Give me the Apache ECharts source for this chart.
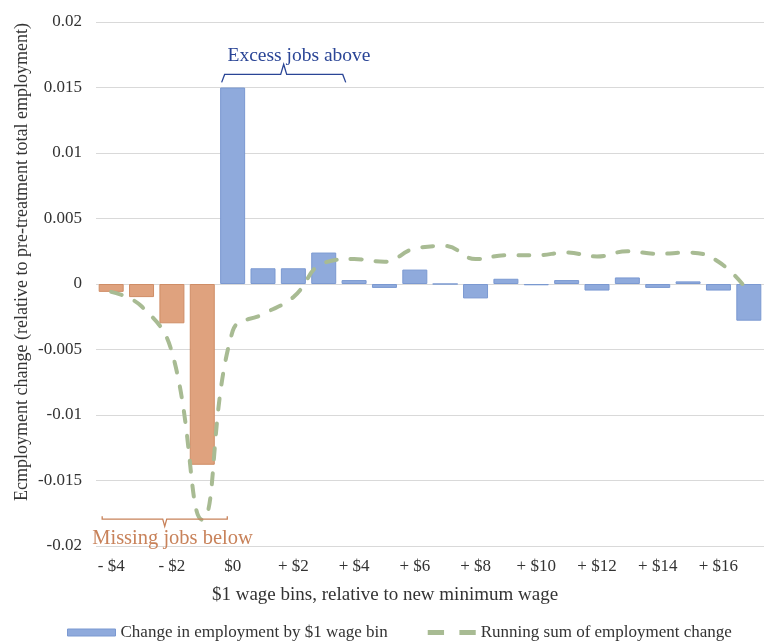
<!DOCTYPE html>
<html>
<head>
<meta charset="utf-8">
<script src="https://cdn.jsdelivr.net/npm/echarts@6/dist/echarts.min.js"></script>
<style>
html,body{margin:0;padding:0;background:#fff;}
#chart{width:764px;height:642px;}
</style>
</head>
<body>
<div id="chart"></div>
<script>
var categories = ['- $4','- $3','- $2','- $1','$0','+ $1','+ $2','+ $3','+ $4','+ $5','+ $6','+ $7','+ $8','+ $9','+ $10','+ $11','+ $12','+ $13','+ $14','+ $15','+ $16','+ $17'];
var binChange = [-0.0006,-0.001,-0.003,-0.0138,0.015,0.0012,0.0012,0.0024,0.0003,-0.0003,0.0011,0.0,-0.0011,0.0004,-0.0001,0.0003,-0.0005,0.0005,-0.0003,0.0002,-0.0005,-0.0028];
var runningSum = [-0.0006,-0.0017,-0.0052,-0.018,-0.0036,-0.0023,-0.001,0.0016,0.0019,0.0017,0.0027,0.0029,0.0019,0.0022,0.0022,0.0024,0.0021,0.0025,0.0023,0.0024,0.0017,-0.0006];
var missingBins = ['- $4','- $3','- $2','- $1'];
var yTickLabels = ['-0.02','-0.015','-0.01','-0.005','0','0.005','0.01','0.015','0.02'];

var FONT = "'Liberation Serif','Times New Roman',serif";
var BLUE = '#8faadc', BLUE_B = '#7b99d1';
var ORANGE = '#dfa27e', ORANGE_B = '#cf8d66';
var GREEN = '#a8bb93';
var NAVY = '#2a4596', BROWN = '#c8825a';

var chart = echarts.init(document.getElementById('chart'));

var barData = binChange.map(function (v, i) {
  var miss = missingBins.indexOf(categories[i]) >= 0;
  return {
    value: v,
    itemStyle: miss ? {color: ORANGE, borderColor: ORANGE_B} : {color: BLUE, borderColor: BLUE_B}
  };
});

var option = {
  animation: false,
  backgroundColor: '#fff',
  textStyle: {fontFamily: FONT},
  grid: {left: 96, top: 22, width: 680, height: 524, containLabel: false},
  xAxis: {
    type: 'category',
    data: categories,
    axisLine: {show: false},
    axisTick: {show: false},
    axisLabel: {interval: 1, margin: 12, fontSize: 17, color: '#333', fontFamily: FONT}
  },
  yAxis: {
    type: 'value',
    min: -0.02, max: 0.02, interval: 0.005,
    axisLine: {show: false},
    axisTick: {show: false},
    splitLine: {lineStyle: {color: '#d9d9d9', width: 1.2}},
    axisLabel: {
      margin: 14, fontSize: 17, color: '#333', fontFamily: FONT,
      formatter: function (v, idx) { return yTickLabels[idx]; }
    }
  },
  legend: {
    left: 62, top: 619,
    itemWidth: 48, itemHeight: 7, itemGap: 40,
    textStyle: {fontSize: 17, color: '#333', fontFamily: FONT},
    data: [
      {name: 'Change in employment by $1 wage bin', icon: 'rect', itemStyle: {color: BLUE, borderColor: BLUE_B, borderWidth: 1}},
      {name: 'Running sum of employment change', icon: 'path://M0,1H17V6H0Z M33,1H50V6H33Z', itemStyle: {color: GREEN, borderWidth: 0}}
    ]
  },
  series: [
    {
      name: 'Change in employment by $1 wage bin',
      type: 'bar',
      barWidth: 25,
      data: barData,
      itemStyle: {color: BLUE, borderColor: BLUE_B, borderWidth: 1},
      z: 2
    },
    {
      name: 'Running sum of employment change',
      type: 'line',
      data: runningSum,
      smooth: 0.45,
      symbol: 'none',
      showSymbol: false,
      lineStyle: {color: GREEN, width: 4, type: [11, 14], cap: 'round'},
      itemStyle: {color: GREEN},
      z: 3
    }
  ]
};
chart.setOption(option);

// annotations
function pt(cat, val) { return chart.convertToPixel({gridIndex: 0}, [cat, val]); }
var exL = pt('$0', 0)[0] - 11, exR = pt('+ $3', 0)[0] + 22;
var exEndY = pt('$0', 0.01539)[1], exBarY = pt('$0', 0.016)[1], exTipY = pt('$0', 0.01677)[1];
var exMid = (exL + exR) / 2;
var msL = pt('- $4', 0)[0] - 9, msR = pt('- $1', 0)[0] + 25;
var msEndY = pt('$0', -0.01773)[1], msBarY = pt('$0', -0.01795)[1], msTipY = pt('$0', -0.0185)[1];
var msMid = (msL + msR) / 2;

chart.setOption({
  graphic: [
    {type: 'polyline', silent: true, z: 10,
     shape: {points: [[exL, exEndY], [exL + 3, exBarY], [exMid - 3, exBarY], [exMid, exTipY], [exMid + 3, exBarY], [exR - 3, exBarY], [exR, exEndY]]},
     style: {stroke: NAVY, lineWidth: 1.3, fill: null}},
    {type: 'text', silent: true, z: 10, x: 299, y: pt('$0', 0.01745)[1],
     style: {text: 'Excess jobs above', fill: NAVY, font: '19.5px ' + FONT, textAlign: 'center', textVerticalAlign: 'middle'}},
    {type: 'polyline', silent: true, z: 10,
     shape: {points: [[msL, msEndY], [msL, msBarY], [msMid - 2, msBarY], [msMid, msTipY], [msMid + 2, msBarY], [msR, msBarY], [msR, msEndY]]},
     style: {stroke: BROWN, lineWidth: 1.3, fill: null}},
    {type: 'text', silent: true, z: 10, x: 172.5, y: pt('$0', -0.0194)[1],
     style: {text: 'Missing jobs below', fill: BROWN, font: '20.5px ' + FONT, textAlign: 'center', textVerticalAlign: 'middle'}},
    {type: 'text', silent: true, z: 10, x: 22.5, y: 262, rotation: Math.PI / 2,
     style: {text: 'Ecmployment change (relative to pre-treatment total employment)', fill: '#333', font: '18px ' + FONT, textAlign: 'center', textVerticalAlign: 'middle'}},
    {type: 'text', silent: true, z: 10, x: 385, y: 595,
     style: {text: '$1 wage bins, relative to new minimum wage', fill: '#333', font: '19px ' + FONT, textAlign: 'center', textVerticalAlign: 'middle'}}
  ]
});
</script>
</body>
</html>
